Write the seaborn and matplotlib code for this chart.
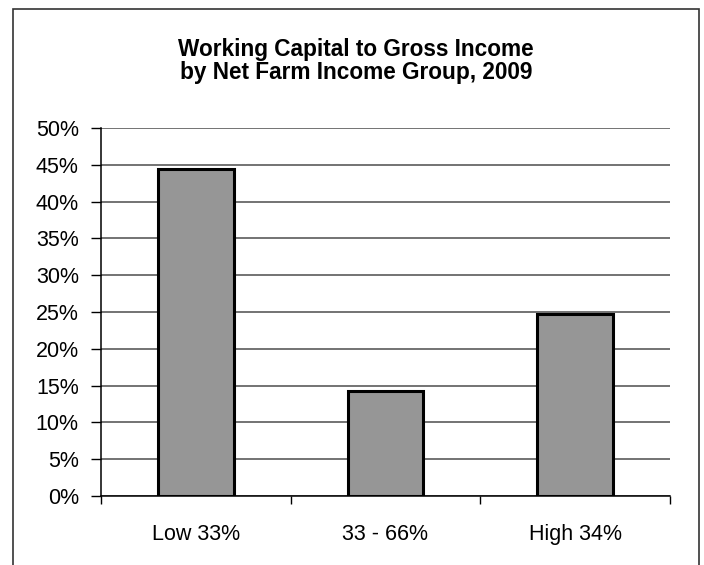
import matplotlib.pyplot as plt
import seaborn as sns
import numpy as np
from matplotlib.patches import Rectangle
from matplotlib.ticker import PercentFormatter

# values (share of gross income)
groups = ["Low 33%", "33 - 66%", "High 34%"]
wc_ratio = [0.444, 0.143, 0.247]
y_ticks = [0.0, 0.05, 0.10, 0.15, 0.20, 0.25, 0.30, 0.35, 0.40, 0.45, 0.50]

sns.set_theme(style="white")
plt.rcParams['font.family'] = ['Liberation Sans', 'DejaVu Sans']
plt.rcParams['text.color'] = 'black'
plt.rcParams['xtick.color'] = 'black'
plt.rcParams['ytick.color'] = 'black'

fig = plt.figure(figsize=(7.04, 5.65), dpi=100)
ax = fig.add_axes([101 / 704, 1 - 496 / 565, 569 / 704, 368 / 565])

sns.barplot(x=groups, y=wc_ratio, ax=ax, color="#969696", width=0.4,
            edgecolor="black", linewidth=2.2, saturation=1)

ax.set_ylim(0, 0.5)
ax.set_xlim(-0.5, 2.5)
ax.set_yticks(y_ticks)
ax.yaxis.set_major_formatter(PercentFormatter(1.0, decimals=0))
ax.yaxis.grid(True, color="#4d4d4d", linewidth=1.1)
ax.set_axisbelow(True)

# category boundary ticks on x, labels in the middle
ax.set_xticks([-0.5, 0.5, 1.5, 2.5])
ax.set_xticklabels([])
ax.set_xticks([0, 1, 2], minor=True)
ax.set_xticklabels(groups, minor=True)
ax.tick_params(axis="x", which="major", direction="out", length=6, width=1, color="black", bottom=True)
ax.tick_params(axis="x", which="minor", length=0, pad=20, labelsize=15.5)
ax.tick_params(axis="y", direction="out", length=7, width=1, color="black", left=True, pad=9, labelsize=15.5)

for s in ["top", "right"]:
    ax.spines[s].set_visible(False)
for s in ["left", "bottom"]:
    ax.spines[s].set_color("black")
    ax.spines[s].set_linewidth(1.1)

ax.set_xlabel("")
ax.set_ylabel("")

fig.text(356 / 704, 1 - 61 / 565, "Working Capital to Gross Income\nby Net Farm Income Group, 2009",
         ha="center", va="center", fontsize=16.3, fontweight="bold", linespacing=1.0)

# outer chart border (bottom edge falls outside the image)
fig.patches.append(Rectangle((13 / 704, -0.05), 686 / 704, 1.05 - 9 / 565,
                             transform=fig.transFigure, fill=False,
                             edgecolor="#333333", linewidth=1.2))

fig.savefig("out.png", dpi=100)
